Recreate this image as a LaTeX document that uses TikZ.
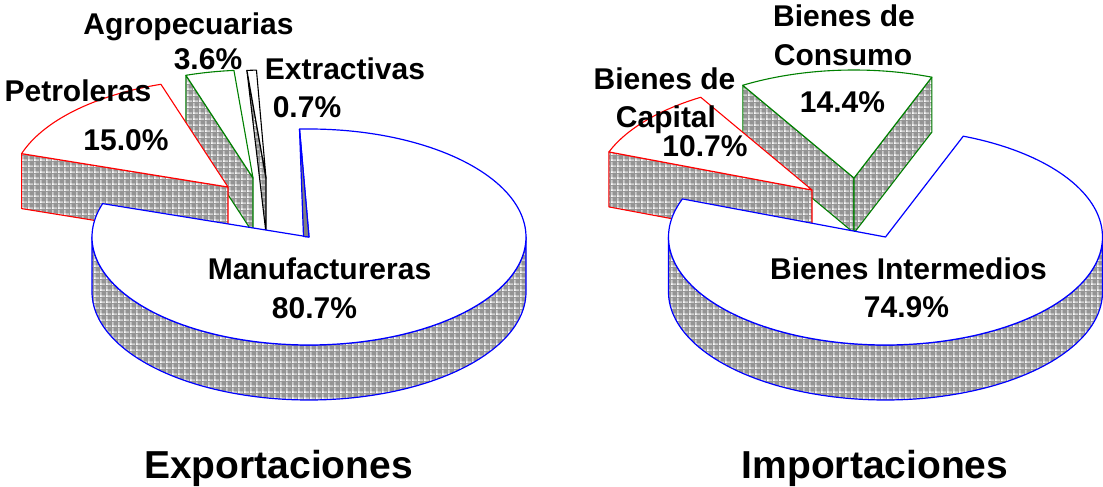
\documentclass[tikz,border=0pt]{standalone}
\usepackage{fontspec}
\setmainfont{Liberation Sans}
\usetikzlibrary{patterns}
\definecolor{pieblue}{RGB}{0,0,255}
\definecolor{piered}{RGB}{255,0,0}
\definecolor{piegreen}{RGB}{0,128,0}
\definecolor{hatchbase}{RGB}{148,148,148}
\definecolor{hatchlight}{RGB}{205,205,205}
\pgfdeclarepatternformonly{hgrid}{\pgfpointorigin}{\pgfqpoint{5.5pt}{5.5pt}}{\pgfqpoint{5.5pt}{5.5pt}}{%
  \pgfpathrectangle{\pgfpointorigin}{\pgfqpoint{5.5pt}{1.8pt}}%
  \pgfpathrectangle{\pgfpointorigin}{\pgfqpoint{1.8pt}{5.5pt}}%
  \pgfusepath{fill}}
\pgfdeclarepatternformonly{hdots}{\pgfpointorigin}{\pgfqpoint{5.5pt}{5.5pt}}{\pgfqpoint{5.5pt}{5.5pt}}{%
  \pgfpathrectangle{\pgfqpoint{0.15pt}{0.15pt}}{\pgfqpoint{1.5pt}{1.5pt}}%
  \pgfusepath{fill}}
\tikzset{
  hatchface/.style={preaction={fill=hatchbase}, preaction={pattern=hgrid, pattern color=hatchlight}, preaction={pattern=hdots, pattern color=white}},
  blueline/.style={draw=pieblue, line width=1.2pt, line join=round},
  redline/.style={draw=piered, line width=1.1pt, line join=round},
  greenline/.style={draw=piegreen, line width=1.1pt, line join=round},
  blackline/.style={draw=black, line width=1.1pt, line join=round},
  lbl/.style={font=\bfseries\fontsize{30}{36}\selectfont, anchor=base, inner sep=0pt},
  ttl/.style={font=\bfseries\fontsize{39}{46}\selectfont, anchor=base, inner sep=0pt}
}
\begin{document}
\begin{tikzpicture}[x=1pt, y=-1pt]
\useasboundingbox (0,0) rectangle (1103,487);
\fill[white] (0,0) rectangle (1103,487);

% ---------- Exportaciones ----------
\coordinate (eP) at (266,178);
\coordinate (aP) at (253,178);
\coordinate (pP) at (228,187);
\coordinate (mL) at (309,237);

% Extractivas
\draw[blackline, hatchface] (246.9,70.4) -- (eP) -- (266,233) -- cycle;
\draw[blackline, fill=white] (eP) -- plot[domain=92.52:95.04, samples=5, variable=\t] ({266+217*cos(\t)},{178-108*sin(\t)}) -- cycle;

% Agropecuarias
\draw[greenline, hatchface] (aP) -- (185.9,75.3) -- (185.9,130.3) -- (253,233) -- cycle;
\draw[greenline, fill=white] (aP) -- plot[domain=95.04:108, samples=12, variable=\t] ({253+217*cos(\t)},{178-108*sin(\t)}) -- cycle;

% Petroleras
\draw[redline, hatchface] (pP) -- (21.6,153.6) -- (21.6,208.6) -- (228,242) -- cycle;
\draw[redline, fill=white] (pP) -- plot[domain=108:162, samples=40, variable=\t] ({228+217*cos(\t)},{187-108*sin(\t)}) -- cycle;

% Manufactureras
\draw[blueline, hatchface] plot[domain=180:360, samples=100, variable=\t] ({309+217*cos(\t)},{237-108*sin(\t)})
  -- plot[domain=360:180, samples=100, variable=\t] ({309+217*cos(\t)},{292-108*sin(\t)}) -- cycle;
\draw[blueline, fill=white] (mL) -- plot[domain=162:452.5, samples=160, variable=\t] ({309+217*cos(\t)},{237-108*sin(\t)}) -- cycle;
\draw[blueline, fill=black!50] (299.5,129.1) -- (303.5,236.5) -- (mL) -- cycle;

% ---------- Importaciones ----------
\coordinate (cP) at (854,178);
\coordinate (kP) at (812,190);
\coordinate (mR) at (885.5,237);

% Bienes de Consumo
\draw[greenline, hatchface] (cP) -- (742.8,85.3) -- (742.8,140.3) -- (854,233) -- cycle;
\draw[greenline, hatchface] (cP) -- (931.8,77.2) -- (931.8,132.2) -- (854,233) -- cycle;
\draw[greenline, fill=white] (cP) -- plot[domain=69:120.84, samples=40, variable=\t] ({854+217*cos(\t)},{178-108*sin(\t)}) -- cycle;

% Bienes de Capital
\draw[redline, hatchface] (kP) -- (608.9,151.9) -- (608.9,206.9) -- (812,245) -- cycle;
\draw[redline, fill=white] (kP) -- plot[domain=120.84:159.36, samples=30, variable=\t] ({812+217*cos(\t)},{190-108*sin(\t)}) -- cycle;

% Bienes Intermedios
\draw[blueline, hatchface] plot[domain=180:360, samples=100, variable=\t] ({885.5+217*cos(\t)},{237-108*sin(\t)})
  -- plot[domain=360:180, samples=100, variable=\t] ({885.5+217*cos(\t)},{292-108*sin(\t)}) -- cycle;
\draw[blueline, fill=white] (mR) -- plot[domain=159.36:429, samples=160, variable=\t] ({885.5+217*cos(\t)},{237-108*sin(\t)}) -- cycle;

% ---------- Labels ----------
\node[lbl] (agro) at (188.5,35) {Agropecuarias};
\node[lbl] (agrop) at (208,70) {3.6\%};
\node[lbl] (petro) at (78,101) {Petroleras};
\node[lbl] (petrop) at (126,150) {15.0\%};
\node[lbl] (extr) at (345,80) {Extractivas};
\node[lbl] (extrp) at (307,117) {0.7\%};
\node[lbl] (manu) at (319.5,279) {Manufactureras};
\node[lbl] (manup) at (314.5,318) {80.7\%};

\node[lbl] (consA) at (844,27) {Bienes de};
\node[lbl] (consB) at (843,66) {Consumo};
\node[lbl] (consp) at (842.5,112) {14.4\%};
\node[lbl] (capA) at (664.5,89) {Bienes de};
\node[lbl] (capB) at (666,127) {Capital};
\node[lbl] (capp) at (705,156) {10.7\%};
\node[lbl] (inter) at (908.5,279) {Bienes Intermedios};
\node[lbl] (interp) at (906.5,317) {74.9\%};

\node[ttl] (expo) at (278.5,478) {Exportaciones};
\node[ttl] (impo) at (875,478) {Importaciones};
\end{tikzpicture}
\end{document}
